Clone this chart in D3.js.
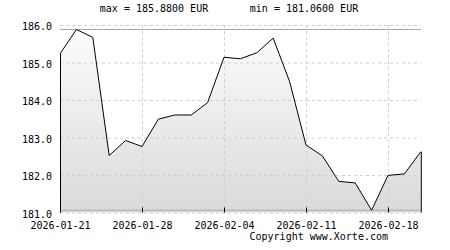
<!DOCTYPE html>
<html>
<head>
<meta charset="utf-8">
<script src="https://cdn.jsdelivr.net/npm/d3@7"></script>
<style>
  body { margin: 0; background: #fff; }
  text { font-family: "DejaVu Sans Mono", monospace; font-size: 10px; fill: #000; }
</style>
</head>
<body>
<div id="chart"></div>
<script>
// data: business days, EUR price
var dates = ["2026-01-21", "2026-01-22", "2026-01-23", "2026-01-26", "2026-01-27",
  "2026-01-28", "2026-01-29", "2026-01-30", "2026-02-02", "2026-02-03",
  "2026-02-04", "2026-02-05", "2026-02-06", "2026-02-09", "2026-02-10",
  "2026-02-11", "2026-02-12", "2026-02-13", "2026-02-16", "2026-02-17",
  "2026-02-18", "2026-02-19", "2026-02-20"];
var prices = [185.23, 185.88, 185.67, 182.52, 182.92, 182.76, 183.49, 183.60, 183.60, 183.93,
  185.14, 185.10, 185.26, 185.65, 184.49, 182.80, 182.51, 181.83, 181.79, 181.06,
  181.99, 182.03, 182.62];
var yTicks = [181, 182, 183, 184, 185, 186];
var xTickIdx = [0, 5, 10, 15, 20];
var maxVal = 185.88;
var minVal = 181.06;

var svgWidth = 450;
var svgHeight = 250;

var margin = { top: 25, left: 60 };
var width = 360.8;
var height = 187.5;

var svg = d3.select("#chart")
  .append("svg")
  .attr("width", svgWidth)
  .attr("height", svgHeight);

var g = svg.append("g")
  .attr("transform", `translate(${margin.left}, ${margin.top})`);

var x = d3.scaleLinear().domain([0, dates.length - 1]).range([0, width]);
var y = d3.scaleLinear().domain([181, 186]).range([height, 0]);

// gradient fill under the line
var grad = svg.append("defs").append("linearGradient")
  .attr("id", "fillGrad")
  .attr("gradientUnits", "userSpaceOnUse")
  .attr("x1", 0).attr("y1", 0)
  .attr("x2", 0).attr("y2", height);
grad.append("stop").attr("offset", "0%").attr("stop-color", "#fdfdfd");
grad.append("stop").attr("offset", "100%").attr("stop-color", "#dadada");

var area = d3.area()
  .x((d, i) => x(i))
  .y0(y(181))
  .y1(d => y(d));

g.append("path")
  .datum(prices)
  .attr("d", area)
  .attr("fill", "url(#fillGrad)");

// grid
g.selectAll(".hgrid")
  .data(yTicks)
  .enter()
  .append("line")
  .attr("x1", 0)
  .attr("x2", width)
  .attr("y1", d => y(d) + 0.5)
  .attr("y2", d => y(d) + 0.5)
  .attr("stroke", "#d0d0d0")
  .attr("stroke-dasharray", "3,3");

g.selectAll(".vgrid")
  .data(xTickIdx.slice(1))
  .enter()
  .append("line")
  .attr("x1", d => Math.round(x(d)) + 0.5)
  .attr("x2", d => Math.round(x(d)) + 0.5)
  .attr("y1", 0)
  .attr("y2", height)
  .attr("stroke", "#d0d0d0")
  .attr("stroke-dasharray", "3,3");

// max / min lines
[maxVal, minVal].forEach(function(v) {
  g.append("line")
    .attr("x1", 0)
    .attr("x2", width)
    .attr("y1", y(v))
    .attr("y2", y(v))
    .attr("stroke", "#aaaaaa")
    .attr("stroke-width", 1.2);
});

// price line with closing verticals
var line = d3.line()
  .x((d, i) => x(i))
  .y(d => y(d));

g.append("path")
  .datum(prices)
  .attr("d", line)
  .attr("fill", "none")
  .attr("stroke", "#000")
  .attr("stroke-width", 1);

[0, prices.length - 1].forEach(function(i) {
  g.append("line")
    .attr("x1", x(i) + 0.5)
    .attr("x2", x(i) + 0.5)
    .attr("y1", y(prices[i]))
    .attr("y2", y(181))
    .attr("stroke", "#000");
});

// axes
var bottomAxis = d3.axisBottom(x)
  .tickValues(xTickIdx)
  .tickFormat(i => dates[i])
  .tickSize(-5)
  .tickPadding(9);

var xAxis = g.append("g")
  .attr("transform", `translate(0, ${height})`)
  .call(bottomAxis);
xAxis.select(".domain").remove();
xAxis.selectAll("text").style("font-family", "DejaVu Sans Mono").style("font-size", "10px");
xAxis.selectAll("line").attr("stroke", "#000");

var leftAxis = d3.axisLeft(y)
  .tickValues(yTicks)
  .tickFormat(d3.format(".1f"))
  .tickSize(0)
  .tickPadding(8);

var yAxis = g.append("g").call(leftAxis);
yAxis.select(".domain").remove();
yAxis.selectAll("text")
  .attr("dy", "0.45em")
  .style("font-family", "DejaVu Sans Mono")
  .style("font-size", "10px");

// header and footer
svg.append("text")
  .attr("x", 154)
  .attr("y", 11.5)
  .attr("text-anchor", "middle")
  .text("max = " + maxVal.toFixed(4) + " EUR");

svg.append("text")
  .attr("x", 304)
  .attr("y", 11.5)
  .attr("text-anchor", "middle")
  .text("min = " + minVal.toFixed(4) + " EUR");

svg.append("text")
  .attr("x", 388)
  .attr("y", 240)
  .attr("text-anchor", "end")
  .text("Copyright www.Xorte.com");
</script>
</body>
</html>
